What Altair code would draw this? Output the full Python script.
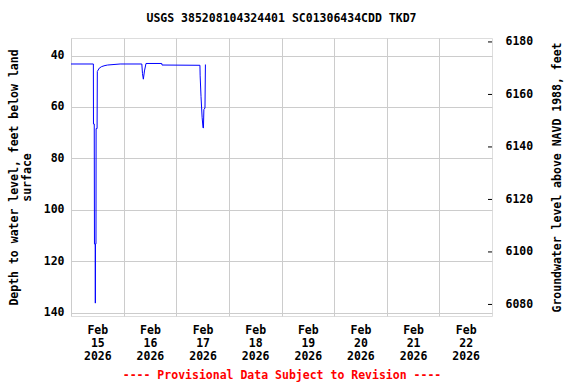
import altair as alt
import pandas as pd

# ---- data ----
times = [
    "2026-02-15T00:00:00", "2026-02-15T10:12:00", "2026-02-15T10:15:00", "2026-02-15T10:36:00",
    "2026-02-15T10:42:00", "2026-02-15T11:03:00", "2026-02-15T11:06:00", "2026-02-15T11:09:00",
    "2026-02-15T11:24:00", "2026-02-15T11:27:00", "2026-02-15T11:54:00", "2026-02-15T12:00:00",
    "2026-02-15T12:54:00", "2026-02-15T14:00:00", "2026-02-15T15:30:00", "2026-02-15T16:42:00",
    "2026-02-15T22:24:00", "2026-02-16T08:18:00", "2026-02-16T08:36:00", "2026-02-16T09:00:00",
    "2026-02-16T09:30:00", "2026-02-16T10:12:00", "2026-02-16T17:24:00", "2026-02-16T17:30:00",
    "2026-02-17T10:48:00", "2026-02-17T10:54:00", "2026-02-17T11:18:00", "2026-02-17T11:48:00",
    "2026-02-17T12:12:00", "2026-02-17T12:24:00", "2026-02-17T12:36:00", "2026-02-17T13:06:00",
    "2026-02-17T13:18:00",
]
depth = [
    43.3, 43.3, 66.6, 66.6,
    113.2, 113.2, 136.2, 113.2,
    113.2, 68.4, 68.4, 46.2,
    44.9, 44.3, 43.9, 43.7,
    43.3, 43.3, 47.0, 49.2,
    46.0, 43.1, 43.1, 43.7,
    43.8, 47.9, 56.0, 64.0,
    68.0, 68.2, 61.0, 60.4,
    43.5,
]
right_ticks = [6080, 6100, 6120, 6140, 6160, 6180]

title = "USGS 385208104324401 SC01306434CDD TKD7"
left_title = ["Depth to water level, feet below land", "surface"]
right_title = "Groundwater level above NAVD 1988, feet"
bottom_note = "---- Provisional Data Subject to Revision ----"

FONT = "DejaVu Sans Mono"
FS = 11.5
W, H = 421, 278

df = pd.DataFrame({"time": times, "depth": depth})
rt = pd.DataFrame({"v": right_ticks})

tick_days = [alt.DateTime(year=2026, month=2, date=d) for d in range(15, 23)]
xscale = alt.Scale(domain=[alt.DateTime(year=2026, month=2, date=15),
                           alt.DateTime(year=2026, month=2, date=23)], nice=False)

xaxis = alt.Axis(
    values=tick_days,
    labelExpr="[timeFormat(datum.value, '%b'), timeFormat(datum.value, '%d'), timeFormat(datum.value, '%Y')]",
    labelOffset=W / 16,
    labelLineHeight=13,
    labelFont=FONT, labelFontSize=FS, labelFontWeight="bold", labelColor="black",
    labelPadding=8, labelAngle=0, labelBaseline="top", labelFlush=False, labelOverlap=False,
    ticks=False, domain=False, grid=True, gridColor="#cccccc", gridWidth=1,
    title=bottom_note, titleColor="red", titleFont=FONT, titleFontSize=FS,
    titleFontWeight="bold", titlePadding=8,
)

line = alt.Chart(df).mark_line(color="#0000ff", strokeWidth=1, interpolate="linear").encode(
    x=alt.X("time:T", scale=xscale, axis=xaxis),
    y=alt.Y("depth:Q",
            scale=alt.Scale(domain=[33.2, 141.2], reverse=True, nice=False, zero=False),
            axis=alt.Axis(values=[40, 60, 80, 100, 120, 140], orient="left",
                          labelFont=FONT, labelFontSize=FS, labelFontWeight="bold",
                          labelColor="black", labelPadding=7, ticks=False, domain=False,
                          grid=True, gridColor="#cccccc", gridWidth=1,
                          title=left_title, titleFont=FONT, titleFontSize=FS,
                          titleFontWeight="bold", titleColor="black", titlePadding=11,
                          titleLineHeight=13)),
)

rticks = alt.Chart(rt).mark_rule(color="black", strokeWidth=1).encode(
    x=alt.value(W - 4), x2=alt.value(W),
    y=alt.Y("v:Q",
            scale=alt.Scale(domain=[6075.6, 6181.5], nice=False, zero=False),
            axis=alt.Axis(values=right_ticks, orient="right", format="d",
                          labelFont=FONT, labelFontSize=FS, labelFontWeight="bold",
                          labelColor="black", labelPadding=13, ticks=False, domain=False,
                          grid=False, title=right_title, titleFont=FONT, titleFontSize=FS,
                          titleFontWeight="bold", titleColor="black", titlePadding=30,
                          titleAngle=270, titleBaseline="bottom")),
)

chart = alt.layer(line, rticks).resolve_scale(y="independent").properties(
    width=W, height=H,
    title=alt.TitleParams(title, font=FONT, fontSize=FS, fontWeight="bold",
                          color="black", anchor="middle", offset=11),
    autosize=alt.AutoSizeParams(type="none"),
    padding={"left": 71, "top": 38, "right": 84, "bottom": 68},
).configure_view(stroke="black", strokeWidth=1).configure(background="white")

chart.save("out.html", embed_options={"renderer": "svg", "actions": False})
